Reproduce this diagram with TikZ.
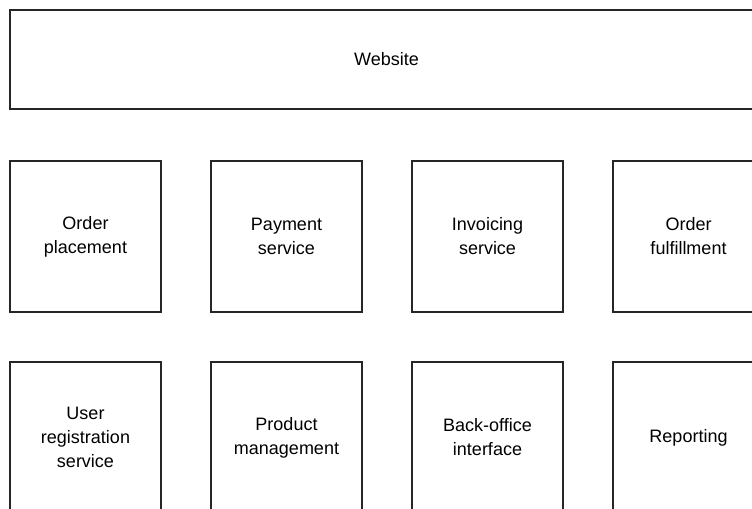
\documentclass[tikz,border=0pt]{standalone}
\usepackage{fontspec}
\setmainfont{Liberation Sans}
\usepackage{tikz}

\begin{document}
\begin{tikzpicture} [x=0.75pt, y=-0.75pt,
			      box/.style={draw=black!85, thick, minimum width=113.25pt, minimum height=113.25pt,
			                  inner sep=0pt, align=center, font=\fontsize{13.5}{18}\selectfont},
			      wide/.style={box, minimum width=564.75pt, minimum height=74.25pt}]
    \useasboundingbox (0,0) rectangle (752,508);
    \clip (0,0) rectangle (752,508);
    \node[wide] (web) at (386.5,59.5) {Website};
    % first row
    \node[box] (order) at (85.5,236.5) {Order\\placement};
    \node[box] (pay) at (286.5,236.5) {Payment\\service};
    \node[box] (invoice) at (487.5,236.5) {Invoicing\\service};
    \node[box] (fulfil) at (688.5,236.5) {Order\\fulfillment};
    % second row
    \node[box] (user) at (85.5,437.5) {User\\registration\\service};
    \node[box] (product) at (286.5,437.5) {Product\\management};
    \node[box] (backoffice) at (487.5,437.5) {Back-office\\interface};
    \node[box] (report) at (688.5,437.5) {Reporting};
\end{tikzpicture}
\end{document}
